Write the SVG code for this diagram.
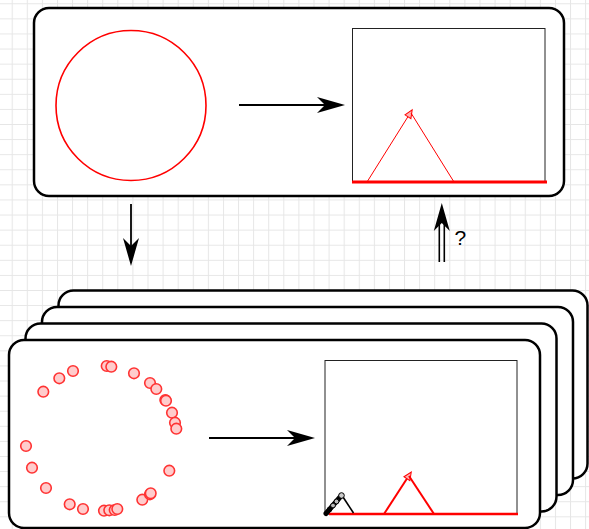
<svg xmlns="http://www.w3.org/2000/svg" width="589" height="529" viewBox="0 0 589 529">
  <defs>
    <pattern id="grid" x="11.7" y="3.3" width="15.09" height="15.09" patternUnits="userSpaceOnUse">
      <path d="M0 0.5 H15.09 M0.5 0 V15.09" fill="none" stroke="#e6e6e6" stroke-width="1"/>
    </pattern>
    <!-- black block arrowhead; the line ends at the notch -->
    <marker id="block" markerUnits="userSpaceOnUse" markerWidth="30" markerHeight="18" refX="8" refY="8" orient="auto" overflow="visible">
      <path d="M0 0 L28 8 L0 16 L8 8 Z" fill="#000"/>
    </marker>
    <!-- small pink arrowhead on the red trajectory -->
    <marker id="tip" markerUnits="userSpaceOnUse" markerWidth="10" markerHeight="8" refX="2" refY="4" orient="auto" overflow="visible">
      <path d="M0 0.5 L8 4 L0 7.5 Z" fill="#ffb3b3" stroke="#ff0000" stroke-width="1"/>
    </marker>
  </defs>
  <style>
    .frame { fill: #ffffff; stroke: #000; stroke-width: 2.5; }
    .view { fill: #ffffff; stroke: #222; stroke-width: 1; }
    .ground { stroke: #ff0000; stroke-linecap: butt; }
    .conn { stroke: #000; stroke-width: 1.8; fill: none; }
    .dot { fill: #ffcccc; stroke: #ff3333; stroke-width: 1.6; }
    .label { font-family: "Liberation Sans", Arial, sans-serif; font-size: 21px; fill: #000; }
  </style>

  <rect width="589" height="529" fill="#ffffff"/>
  <rect width="589" height="529" fill="url(#grid)"/>

  <!-- top frame: ideal circle and its projection -->
  <g id="frame-ideal">
    <rect class="frame" x="34" y="8" width="530" height="188" rx="15" ry="15"/>
    <circle cx="131" cy="105.5" r="75" fill="none" stroke="#ff0000" stroke-width="1.6"/>
    <rect class="view" x="352.5" y="28.5" width="192.5" height="153.5"/>
    <line class="ground" x1="352" y1="182" x2="547" y2="182" stroke-width="3"/>
    <line x1="367" y1="182" x2="409" y2="115" stroke="#ff0000" stroke-width="1" marker-end="url(#tip)"/>
    <line x1="411" y1="113" x2="454" y2="182" stroke="#ff0000" stroke-width="1"/>
  </g>

  <!-- stacked sample frames, back to front -->
  <g id="frame-stack-4">
    <rect class="frame" x="58.5" y="290.5" width="529" height="188" rx="15" ry="15"/>
  </g>
  <g id="frame-stack-3">
    <rect class="frame" x="42" y="307" width="531" height="188" rx="15" ry="15"/>
  </g>
  <g id="frame-stack-2">
    <rect class="frame" x="25.5" y="323.5" width="531" height="188" rx="15" ry="15"/>
  </g>
  <g id="frame-sample">
    <rect class="frame" x="9" y="340" width="531" height="188" rx="15" ry="15"/>
    <g id="samples">
      <circle class="dot" cx="43.3" cy="391.7" r="5.3"/>
      <circle class="dot" cx="59.3" cy="378.3" r="5.3"/>
      <circle class="dot" cx="73" cy="371" r="5.3"/>
      <circle class="dot" cx="106.7" cy="366" r="5.3"/>
      <circle class="dot" cx="111.3" cy="366.7" r="5.3"/>
      <circle class="dot" cx="134" cy="373.3" r="5.3"/>
      <circle class="dot" cx="150" cy="383" r="5.3"/>
      <circle class="dot" cx="156.3" cy="389" r="5.3"/>
      <circle class="dot" cx="165.3" cy="400" r="5.3"/>
      <circle class="dot" cx="166" cy="400.7" r="5.3"/>
      <circle class="dot" cx="172" cy="412.7" r="5.3"/>
      <circle class="dot" cx="175" cy="422.7" r="5.3"/>
      <circle class="dot" cx="176.3" cy="428.7" r="5.3"/>
      <circle class="dot" cx="26" cy="446" r="5.3"/>
      <circle class="dot" cx="32" cy="467.7" r="5.3"/>
      <circle class="dot" cx="46" cy="488" r="5.3"/>
      <circle class="dot" cx="69.7" cy="504.3" r="5.3"/>
      <circle class="dot" cx="83" cy="509" r="5.3"/>
      <circle class="dot" cx="104" cy="510.7" r="5.3"/>
      <circle class="dot" cx="109.3" cy="510.3" r="5.3"/>
      <circle class="dot" cx="114.7" cy="510" r="5.3"/>
      <circle class="dot" cx="117.3" cy="509" r="5.3"/>
      <circle class="dot" cx="142.3" cy="499.7" r="5.3"/>
      <circle class="dot" cx="150" cy="494.3" r="5.3"/>
      <circle class="dot" cx="150.7" cy="493.3" r="5.3"/>
      <circle class="dot" cx="169.3" cy="470.7" r="5.3"/>
    </g>
    <rect class="view" x="325" y="360.5" width="192" height="153.5"/>
    <line class="ground" x1="329" y1="514" x2="518" y2="514" stroke-width="2.5"/>
    <line x1="384" y1="514" x2="408" y2="477" stroke="#ff0000" stroke-width="2" marker-end="url(#tip)"/>
    <line x1="409" y1="476" x2="434" y2="514" stroke="#ff0000" stroke-width="2"/>
    <!-- robot arm at the origin -->
    <g id="arm">
      <line x1="341.7" y1="495" x2="353.5" y2="513" stroke="#000" stroke-width="1.6"/>
      <line x1="326" y1="513.5" x2="341" y2="496" stroke="#000" stroke-width="5" stroke-linecap="round"/>
      <circle cx="329.5" cy="509.5" r="2.3" fill="#000" stroke="#000" stroke-width="1"/>
      <circle cx="333" cy="505.5" r="2.4" fill="#bbbbbb" stroke="#000" stroke-width="1"/>
      <circle cx="336.5" cy="501.5" r="2.4" fill="#bbbbbb" stroke="#000" stroke-width="1"/>
      <circle cx="341.5" cy="495.5" r="2.8" fill="#cccccc" stroke="#000" stroke-width="1"/>
    </g>
  </g>

  <g id="connectors">
    <line class="conn" x1="239" y1="105" x2="325" y2="105" marker-end="url(#block)"/>
    <line class="conn" x1="209" y1="438" x2="295" y2="438" marker-end="url(#block)"/>
    <line class="conn" x1="131" y1="204" x2="131" y2="246" marker-end="url(#block)"/>
    <line x1="439.3" y1="262" x2="439.3" y2="222" stroke="#000" stroke-width="1.6"/>
    <line x1="444.3" y1="262" x2="444.3" y2="222" stroke="#000" stroke-width="1.6"/>
    <line x1="441.8" y1="240" x2="441.8" y2="223" stroke="none" marker-end="url(#block)"/>
    <text class="label" x="454.5" y="245">?</text>
  </g>
</svg>
